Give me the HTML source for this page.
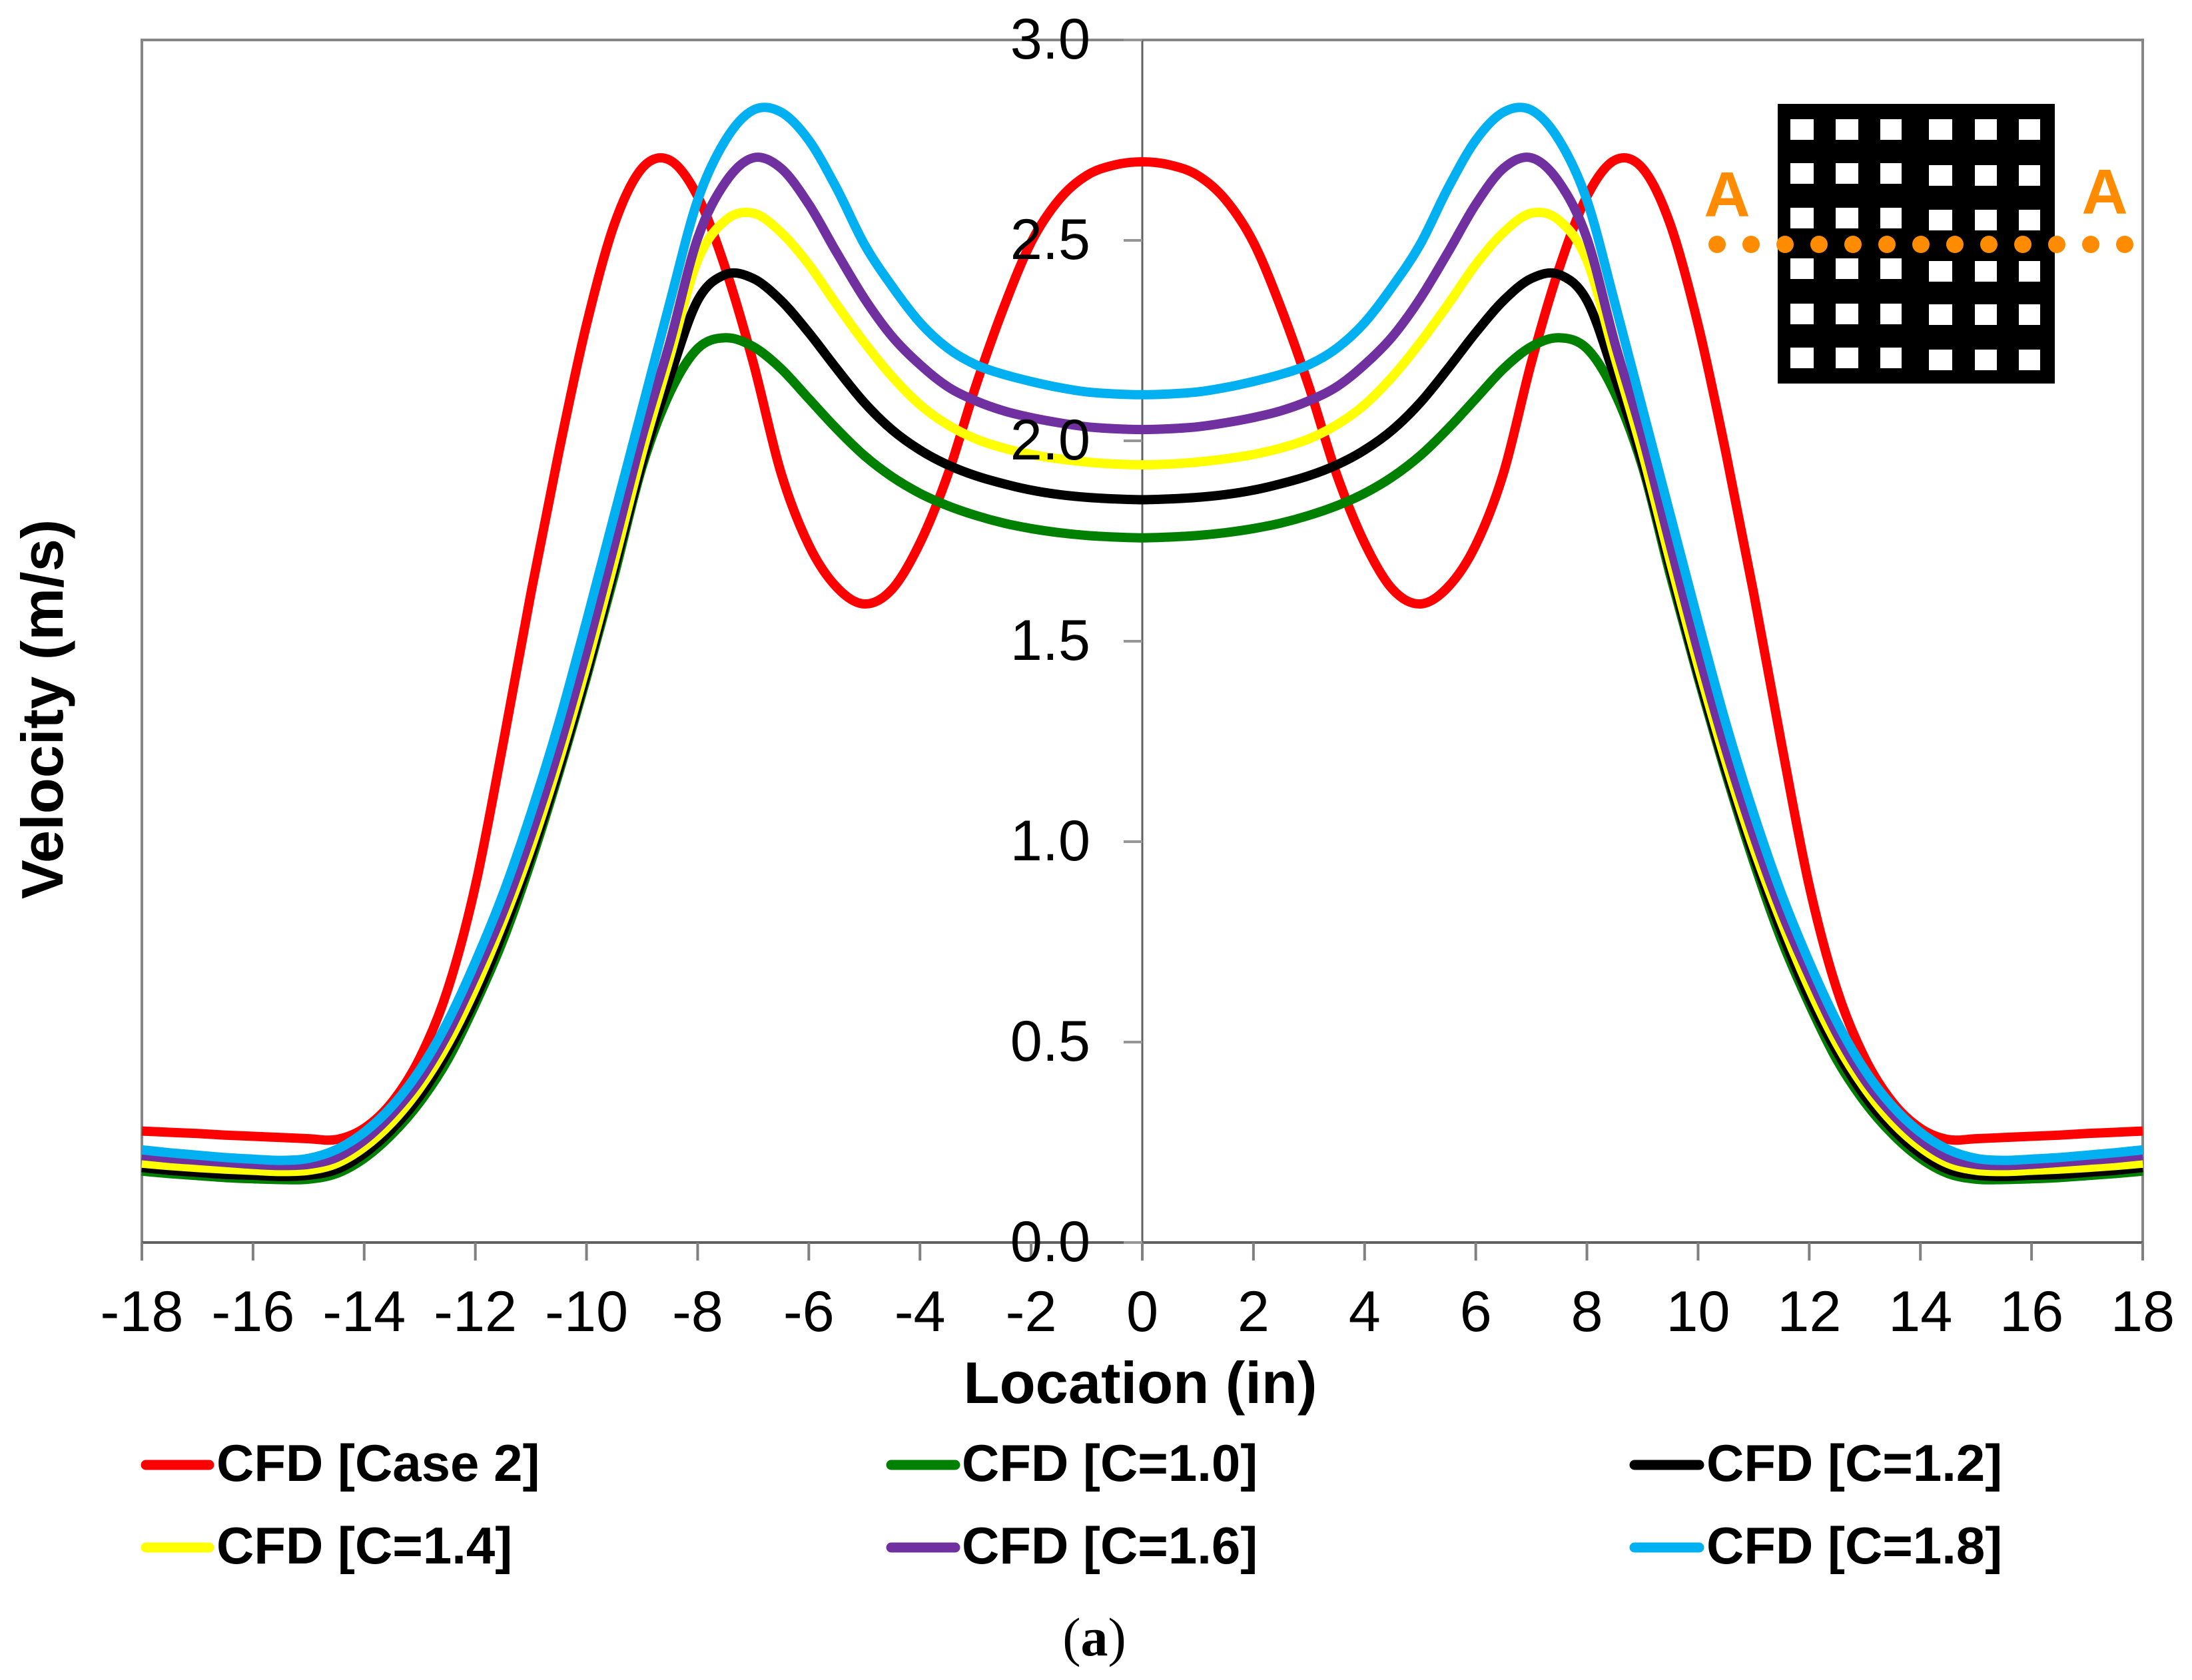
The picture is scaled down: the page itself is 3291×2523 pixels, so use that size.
<!DOCTYPE html>
<html lang="en">
<head>
<meta charset="utf-8">
<title>Velocity profile chart</title>
<style>
html,body{margin:0;padding:0;background:#fff;}
svg{display:block;}
text{font-family:"Liberation Sans",sans-serif;fill:#000;}
.tick-label{font-size:86.5px;}
.axis-title{font-size:88.5px;font-weight:bold;}
.legend-label{font-size:78px;font-weight:bold;}
</style>
</head>
<body>
<svg id="chart" xmlns="http://www.w3.org/2000/svg" width="3291" height="2523" viewBox="0 0 3291 2523">
  <rect x="213" y="60" width="3004" height="1806" fill="#fff" stroke="#868686" stroke-width="4"/>
  <g id="axes"></g>
  <g id="series"></g>

  <g>
    <rect x="2669" y="156" width="416" height="420" fill="#000"/>
    <g fill="#fff">
      <rect x="2688" y="179" width="35" height="31"/><rect x="2756" y="179" width="34" height="31"/><rect x="2823" y="179" width="32" height="31"/><rect x="2896" y="179" width="35" height="31"/><rect x="2965" y="179" width="33" height="31"/><rect x="3031" y="179" width="32" height="31"/>
      <rect x="2688" y="245" width="35" height="31"/><rect x="2756" y="245" width="34" height="31"/><rect x="2823" y="245" width="32" height="31"/><rect x="2896" y="248" width="35" height="31"/><rect x="2965" y="248" width="33" height="31"/><rect x="3031" y="248" width="32" height="31"/>
      <rect x="2688" y="312" width="35" height="31"/><rect x="2756" y="312" width="34" height="31"/><rect x="2823" y="312" width="32" height="31"/><rect x="2896" y="315" width="35" height="31"/><rect x="2965" y="315" width="33" height="31"/><rect x="3031" y="315" width="32" height="31"/>
      <rect x="2688" y="388" width="35" height="31"/><rect x="2756" y="388" width="34" height="31"/><rect x="2823" y="388" width="32" height="31"/><rect x="2896" y="392" width="35" height="31"/><rect x="2965" y="392" width="33" height="31"/><rect x="3031" y="392" width="32" height="31"/>
      <rect x="2688" y="456" width="35" height="31"/><rect x="2756" y="456" width="34" height="31"/><rect x="2823" y="456" width="32" height="31"/><rect x="2896" y="457" width="35" height="31"/><rect x="2965" y="457" width="33" height="31"/><rect x="3031" y="457" width="32" height="31"/>
      <rect x="2688" y="522" width="35" height="31"/><rect x="2756" y="522" width="34" height="31"/><rect x="2823" y="522" width="32" height="31"/><rect x="2896" y="525" width="35" height="31"/><rect x="2965" y="525" width="33" height="31"/><rect x="3031" y="525" width="32" height="31"/>
    </g>
    <g fill="#ff8c00">
      <circle cx="2578" cy="367" r="13"/><circle cx="2629" cy="367" r="13"/><circle cx="2680" cy="367" r="13"/><circle cx="2731" cy="367" r="13"/><circle cx="2782" cy="367" r="13"/><circle cx="2833" cy="367" r="13"/><circle cx="2884" cy="367" r="13"/><circle cx="2935" cy="367" r="13"/><circle cx="2986" cy="367" r="13"/><circle cx="3037" cy="367" r="13"/><circle cx="3088" cy="367" r="13"/><circle cx="3139" cy="367" r="13"/><circle cx="3190" cy="367" r="13"/>
    </g>
    <text x="2593" y="325" text-anchor="middle" font-size="96" font-weight="bold" style="fill:#ff8c00">A</text>
    <text x="3160" y="321" text-anchor="middle" font-size="96" font-weight="bold" style="fill:#ff8c00">A</text>
  </g>

  <text class="axis-title" x="1712" y="2107" text-anchor="middle">Location (in)</text>
  <text class="axis-title" transform="translate(94,1065) rotate(-90)" text-anchor="middle">Velocity (m/s)</text>

  <g>
    <g><line x1="219" y1="2200" x2="314" y2="2200" stroke="#ff0000" stroke-width="15" stroke-linecap="round"/><text class="legend-label" x="325" y="2224">CFD [Case 2]</text></g>
    <g><line x1="1338" y1="2200" x2="1434" y2="2200" stroke="#008000" stroke-width="15" stroke-linecap="round"/><text class="legend-label" x="1444" y="2224">CFD [C=1.0]</text></g>
    <g><line x1="2454" y1="2200" x2="2551" y2="2200" stroke="#000000" stroke-width="15" stroke-linecap="round"/><text class="legend-label" x="2562" y="2224">CFD [C=1.2]</text></g>
    <g><line x1="219" y1="2324" x2="314" y2="2324" stroke="#ffff00" stroke-width="15" stroke-linecap="round"/><text class="legend-label" x="325" y="2348">CFD [C=1.4]</text></g>
    <g><line x1="1338" y1="2324" x2="1434" y2="2324" stroke="#7030a0" stroke-width="15" stroke-linecap="round"/><text class="legend-label" x="1444" y="2348">CFD [C=1.6]</text></g>
    <g><line x1="2454" y1="2324" x2="2551" y2="2324" stroke="#00b0f0" stroke-width="15" stroke-linecap="round"/><text class="legend-label" x="2562" y="2348">CFD [C=1.8]</text></g>
  </g>

  <text x="1643" y="2486" text-anchor="middle" font-size="82" style="font-family:'Liberation Serif',serif">(<tspan font-weight="bold" style="font-family:'Liberation Serif',serif">a</tspan>)</text>
</svg>

<script>
const locations = [-18,-17.5,-17,-16.5,-16,-15.5,-15,-14.5,-14,-13.5,-13,-12.5,-12,-11.5,-11,-10.5,-10,-9.5,-9,-8.5,-8,-7.5,-7,-6.5,-6,-5.5,-5,-4.5,-4,-3.5,-3,-2.5,-2,-1.5,-1,-0.5,0,0.5,1,1.5,2,2.5,3,3.5,4,4.5,5,5.5,6,6.5,7,7.5,8,8.5,9,9.5,10,10.5,11,11.5,12,12.5,13,13.5,14,14.5,15,15.5,16,16.5,17,17.5,18];
const xTickLabels = [-18,-16,-14,-12,-10,-8,-6,-4,-2,0,2,4,6,8,10,12,14,16,18];
const yTickLabels = ["0.0","0.5","1.0","1.5","2.0","2.5","3.0"];

const case2 = [0.278,0.275,0.272,0.268,0.265,0.262,0.259,0.257,0.285,0.35,0.46,0.63,0.89,1.245,1.62,1.97,2.29,2.54,2.68,2.7,2.61,2.43,2.195,1.92,1.74,1.635,1.593,1.63,1.745,1.915,2.135,2.33,2.495,2.601,2.662,2.688,2.696,2.688,2.662,2.601,2.495,2.33,2.135,1.915,1.745,1.63,1.593,1.635,1.74,1.92,2.195,2.43,2.61,2.7,2.68,2.54,2.29,1.97,1.62,1.245,0.89,0.63,0.46,0.35,0.285,0.257,0.259,0.262,0.265,0.268,0.272,0.275,0.278];
const c10 = [0.178,0.172,0.167,0.162,0.159,0.157,0.158,0.172,0.21,0.27,0.35,0.455,0.595,0.755,0.95,1.17,1.41,1.665,1.935,2.12,2.23,2.257,2.235,2.18,2.105,2.03,1.963,1.91,1.869,1.838,1.814,1.795,1.781,1.771,1.764,1.76,1.758,1.76,1.764,1.771,1.781,1.795,1.814,1.838,1.869,1.91,1.963,2.03,2.105,2.18,2.235,2.257,2.23,2.12,1.935,1.665,1.41,1.17,0.95,0.755,0.595,0.455,0.35,0.27,0.21,0.172,0.158,0.157,0.159,0.162,0.167,0.172,0.178];
const c12 = [0.187,0.18,0.175,0.17,0.168,0.165,0.168,0.182,0.222,0.283,0.365,0.475,0.61,0.775,0.965,1.18,1.42,1.68,1.945,2.16,2.35,2.415,2.405,2.35,2.27,2.18,2.095,2.027,1.977,1.94,1.913,1.893,1.877,1.866,1.859,1.855,1.853,1.855,1.859,1.866,1.877,1.893,1.913,1.94,1.977,2.027,2.095,2.18,2.27,2.35,2.405,2.415,2.35,2.16,1.945,1.68,1.42,1.18,0.965,0.775,0.61,0.475,0.365,0.283,0.222,0.182,0.168,0.165,0.168,0.17,0.175,0.18,0.187];
const c14 = [0.198,0.192,0.187,0.183,0.18,0.177,0.18,0.197,0.238,0.3,0.385,0.495,0.635,0.8,0.985,1.2,1.44,1.7,1.97,2.21,2.45,2.55,2.568,2.52,2.44,2.34,2.245,2.16,2.09,2.04,2.005,1.982,1.966,1.955,1.947,1.942,1.94,1.942,1.947,1.955,1.966,1.982,2.005,2.04,2.09,2.16,2.245,2.34,2.44,2.52,2.568,2.55,2.45,2.21,1.97,1.7,1.44,1.2,0.985,0.8,0.635,0.495,0.385,0.3,0.238,0.197,0.18,0.177,0.18,0.183,0.187,0.192,0.198];
const c16 = [0.217,0.21,0.205,0.2,0.195,0.192,0.195,0.212,0.255,0.32,0.405,0.52,0.665,0.825,1.015,1.23,1.475,1.74,2.01,2.245,2.505,2.645,2.706,2.68,2.59,2.47,2.355,2.26,2.19,2.135,2.1,2.075,2.058,2.045,2.035,2.03,2.028,2.03,2.035,2.045,2.058,2.075,2.1,2.135,2.19,2.26,2.355,2.47,2.59,2.68,2.706,2.645,2.505,2.245,2.01,1.74,1.475,1.23,1.015,0.825,0.665,0.52,0.405,0.32,0.255,0.212,0.195,0.192,0.195,0.2,0.205,0.21,0.217];
const c18 = [0.231,0.224,0.218,0.212,0.208,0.205,0.21,0.232,0.275,0.34,0.43,0.55,0.7,0.87,1.07,1.295,1.55,1.815,2.08,2.345,2.6,2.75,2.825,2.82,2.75,2.63,2.49,2.385,2.295,2.231,2.19,2.166,2.148,2.133,2.122,2.117,2.115,2.117,2.122,2.133,2.148,2.166,2.19,2.231,2.295,2.385,2.49,2.63,2.75,2.82,2.825,2.75,2.6,2.345,2.08,1.815,1.55,1.295,1.07,0.87,0.7,0.55,0.43,0.34,0.275,0.232,0.21,0.205,0.208,0.212,0.218,0.224,0.231];

const NS = 'http://www.w3.org/2000/svg';
const PLOT = { left: 213, right: 3217, top: 60, bottom: 1866 };
const X_MIN = -18, X_MAX = 18, Y_MIN = 0, Y_MAX = 3;

function xScale(v) { return PLOT.left + (v - X_MIN) / (X_MAX - X_MIN) * (PLOT.right - PLOT.left); }
function yScale(v) { return PLOT.bottom - (v - Y_MIN) / (Y_MAX - Y_MIN) * (PLOT.bottom - PLOT.top); }

function smoothPath(xs, ys) {
  const pts = xs.map(function (x, i) { return [xScale(x), yScale(ys[i])]; });
  let d = 'M' + pts[0][0].toFixed(1) + ' ' + pts[0][1].toFixed(1);
  for (let i = 0; i < pts.length - 1; i++) {
    const p0 = pts[Math.max(i - 1, 0)], p1 = pts[i], p2 = pts[i + 1], p3 = pts[Math.min(i + 2, pts.length - 1)];
    const c1x = p1[0] + (p2[0] - p0[0]) / 6, c1y = p1[1] + (p2[1] - p0[1]) / 6;
    const c2x = p2[0] - (p3[0] - p1[0]) / 6, c2y = p2[1] - (p3[1] - p1[1]) / 6;
    d += 'C' + c1x.toFixed(1) + ' ' + c1y.toFixed(1) + ' ' + c2x.toFixed(1) + ' ' + c2y.toFixed(1) + ' ' + p2[0].toFixed(1) + ' ' + p2[1].toFixed(1);
  }
  return d;
}

const axes = document.getElementById('axes');
const seriesGroup = document.getElementById('series');

const xAxisLine = document.createElementNS(NS, 'line');


xAxisLine.setAttribute('x1', PLOT.left); xAxisLine.setAttribute('x2', PLOT.right);
xAxisLine.setAttribute('y1', yScale(0)); xAxisLine.setAttribute('y2', yScale(0));
xAxisLine.setAttribute('stroke', '#606060'); xAxisLine.setAttribute('stroke-width', '4');
axes.appendChild(xAxisLine);

const yAxisLine = document.createElementNS(NS, 'line');


yAxisLine.setAttribute('x1', xScale(0)); yAxisLine.setAttribute('x2', xScale(0));
yAxisLine.setAttribute('y1', PLOT.top); yAxisLine.setAttribute('y2', PLOT.bottom);
yAxisLine.setAttribute('stroke', '#606060'); yAxisLine.setAttribute('stroke-width', '3');
axes.appendChild(yAxisLine);

xTickLabels.forEach(function (v) {
  const tick = document.createElementNS(NS, 'line');
  
  
  tick.setAttribute('x1', xScale(v)); tick.setAttribute('x2', xScale(v));
  tick.setAttribute('y1', PLOT.bottom); tick.setAttribute('y2', PLOT.bottom + 27);
  tick.setAttribute('stroke', '#808080'); tick.setAttribute('stroke-width', '4');
  axes.appendChild(tick);
  const label = document.createElementNS(NS, 'text');
  
  
  label.setAttribute('class', 'tick-label');
  label.setAttribute('x', xScale(v));
  label.setAttribute('y', 1999);
  label.setAttribute('text-anchor', 'middle');
  label.textContent = String(v);
  axes.appendChild(label);
});

yTickLabels.forEach(function (t) {
  const v = parseFloat(t);
  const tick = document.createElementNS(NS, 'line');
  
  
  tick.setAttribute('x1', xScale(0) - 28); tick.setAttribute('x2', xScale(0));
  tick.setAttribute('y1', yScale(v)); tick.setAttribute('y2', yScale(v));
  tick.setAttribute('stroke', '#969696'); tick.setAttribute('stroke-width', '4');
  axes.appendChild(tick);
});

function drawSeries(name, values, color) {
  const path = document.createElementNS(NS, 'path');
  
  
  path.setAttribute('d', smoothPath(locations, values));
  path.setAttribute('fill', 'none');
  path.setAttribute('stroke', color);
  path.setAttribute('stroke-width', '14');
  path.setAttribute('stroke-linejoin', 'round');
  seriesGroup.appendChild(path);
}
drawSeries('series-case-2', case2, '#ff0000');
drawSeries('series-c-1-0', c10, '#008000');
drawSeries('series-c-1-2', c12, '#000000');
drawSeries('series-c-1-4', c14, '#ffff00');
drawSeries('series-c-1-6', c16, '#7030a0');
drawSeries('series-c-1-8', c18, '#00b0f0');

yTickLabels.forEach(function (t) {
  const v = parseFloat(t);
  const label = document.createElementNS(NS, 'text');
  
  
  label.setAttribute('class', 'tick-label');
  label.setAttribute('x', 1637);
  label.setAttribute('y', yScale(v) + 28);
  label.setAttribute('text-anchor', 'end');
  label.textContent = t;
  seriesGroup.appendChild(label);
});
</script>
</body>
</html>
